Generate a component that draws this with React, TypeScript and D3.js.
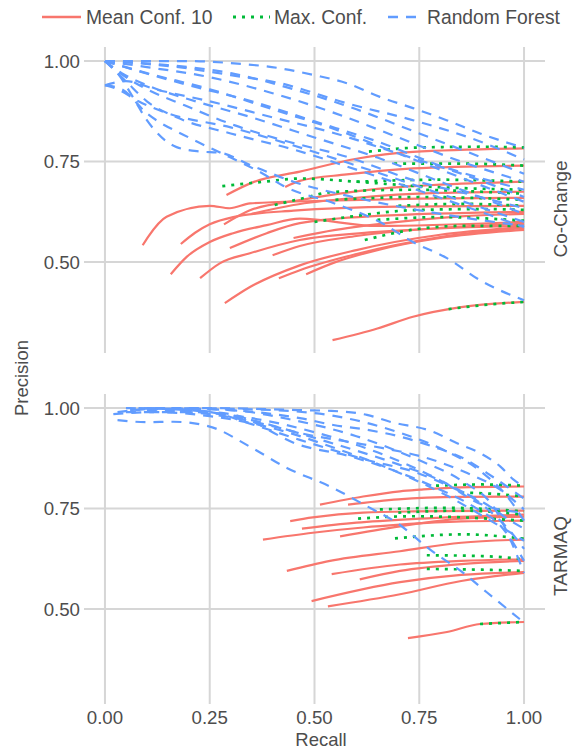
import React from "react";
import * as d3 from "d3";

type Pt = [number, number];

const panels = ["Co-Change", "TARMAQ"];
const methods = ["Mean Conf. 10", "Max. Conf.", "Random Forest"];
const methodColors = ["#F8766D", "#00BA38", "#619CFF"];
const xTicks = [0, 0.25, 0.5, 0.75, 1];
const yTicks = [0.5, 0.75, 1];
const xDomain: Pt = [-0.05, 1.05];
const yDomain: Pt = [0.274, 1.035];

// ---- Co-Change panel ----
const coChangeMeanConf: Pt[][] = [
  [[0.09, 0.542], [0.103, 0.563], [0.147, 0.613], [0.25, 0.64], [0.298, 0.634], [0.346, 0.646], [0.5, 0.652], [0.75, 0.658], [1, 0.66]],
  [[0.181, 0.545], [0.215, 0.573], [0.25, 0.594], [0.306, 0.612], [0.45, 0.628], [0.7, 0.638], [1, 0.64]],
  [[0.157, 0.47], [0.195, 0.513], [0.25, 0.55], [0.306, 0.572], [0.386, 0.592], [0.465, 0.608], [0.65, 0.59], [1, 0.6]],
  [[0.227, 0.46], [0.274, 0.497], [0.346, 0.522], [0.465, 0.555], [0.65, 0.575], [1, 0.59]],
  [[0.286, 0.398], [0.346, 0.438], [0.465, 0.492], [0.6, 0.53], [0.8, 0.568], [1, 0.587]],
  [[0.29, 0.667], [0.354, 0.699], [0.465, 0.725], [0.6, 0.757], [0.735, 0.774], [1, 0.783]],
  [[0.284, 0.594], [0.346, 0.629], [0.465, 0.654], [0.65, 0.682], [0.85, 0.695], [1, 0.7]],
  [[0.298, 0.535], [0.386, 0.572], [0.465, 0.597], [0.65, 0.615], [1, 0.625]],
  [[0.4, 0.517], [0.465, 0.54], [0.6, 0.565], [0.8, 0.585], [1, 0.595]],
  [[0.415, 0.46], [0.465, 0.48], [0.6, 0.52], [0.8, 0.562], [1, 0.585]],
  [[0.43, 0.687], [0.465, 0.702], [0.577, 0.718], [0.735, 0.733], [1, 0.74]],
  [[0.543, 0.306], [0.65, 0.335], [0.735, 0.364], [0.85, 0.388], [1, 0.401]],
  [[0.35, 0.62], [0.45, 0.642], [0.6, 0.66], [0.8, 0.672], [1, 0.675]],
  [[0.45, 0.56], [0.55, 0.58], [0.7, 0.6], [0.85, 0.614], [1, 0.62]],
  [[0.48, 0.47], [0.55, 0.5], [0.65, 0.53], [0.8, 0.56], [1, 0.58]],
];

const coChangeMaxConf: Pt[][] = [
  [[0.63, 0.775], [0.75, 0.785], [0.9, 0.787], [1, 0.785]],
  [[0.69, 0.745], [0.85, 0.745], [1, 0.74]],
  [[0.28, 0.689], [0.38, 0.7], [0.465, 0.708], [0.6, 0.7], [0.73, 0.69], [1, 0.68]],
  [[0.405, 0.642], [0.465, 0.657], [0.54, 0.674], [0.73, 0.68], [0.9, 0.675], [1, 0.67]],
  [[0.5, 0.6], [0.6, 0.615], [0.73, 0.629], [0.9, 0.632], [1, 0.63]],
  [[0.62, 0.555], [0.73, 0.58], [0.85, 0.59], [1, 0.59]],
  [[0.82, 0.383], [0.9, 0.393], [1, 0.401]],
  [[0.6, 0.7], [0.8, 0.705], [1, 0.7]],
  [[0.55, 0.655], [0.75, 0.662], [1, 0.655]],
  [[0.65, 0.605], [0.8, 0.612], [1, 0.603]],
  [[0.7, 0.64], [0.85, 0.645], [1, 0.64]],
];

const coChangeRandomForest: Pt[][] = [
  [[0, 1], [0.2, 1], [0.3, 0.995], [0.418, 0.982], [0.5, 0.965], [0.577, 0.945], [0.656, 0.911], [0.735, 0.883], [0.815, 0.853], [0.895, 0.82], [1, 0.784]],
  [[0, 1], [0.19, 0.983], [0.3, 0.965], [0.418, 0.945], [0.577, 0.895], [0.735, 0.853], [0.895, 0.8], [1, 0.755]],
  [[0, 1], [0.05, 0.96], [0.1, 0.93], [0.19, 0.89], [0.31, 0.84], [0.418, 0.805], [0.577, 0.762], [0.735, 0.704], [0.895, 0.662], [1, 0.634]],
  [[0, 1], [0.1, 0.985], [0.25, 0.96], [0.4, 0.92], [0.55, 0.87], [0.7, 0.81], [0.85, 0.75], [1, 0.7]],
  [[0, 0.94], [0.05, 0.95], [0.12, 0.93], [0.25, 0.9], [0.4, 0.86], [0.55, 0.82], [0.7, 0.77], [0.85, 0.72], [1, 0.662]],
  [[0, 1], [0.04, 0.97], [0.1, 0.94], [0.2, 0.905], [0.35, 0.86], [0.5, 0.81], [0.65, 0.76], [0.8, 0.7], [1, 0.62]],
  [[0, 0.94], [0.03, 0.93], [0.08, 0.9], [0.15, 0.87], [0.3, 0.835], [0.45, 0.79], [0.6, 0.74], [0.8, 0.67], [1, 0.6]],
  [[0, 1], [0.05, 0.95], [0.1, 0.9], [0.171, 0.86], [0.3, 0.82], [0.45, 0.78], [0.6, 0.73], [0.8, 0.66], [1, 0.587]],
  [[0, 1], [0.03, 0.97], [0.068, 0.908], [0.1, 0.853], [0.171, 0.786], [0.227, 0.775], [0.274, 0.772], [0.35, 0.74], [0.45, 0.7], [0.6, 0.66], [0.8, 0.62], [1, 0.59]],
  [[0, 0.94], [0.04, 0.93], [0.1, 0.87], [0.2, 0.81], [0.3, 0.76], [0.377, 0.72], [0.425, 0.69], [0.55, 0.645], [0.656, 0.6], [0.735, 0.55], [0.816, 0.51], [0.895, 0.455], [1, 0.405]],
  [[0, 1], [0.15, 0.99], [0.3, 0.97], [0.45, 0.93], [0.6, 0.88], [0.75, 0.82], [0.9, 0.76], [1, 0.72]],
  [[0, 1], [0.08, 0.975], [0.2, 0.94], [0.35, 0.9], [0.5, 0.85], [0.65, 0.8], [0.8, 0.74], [1, 0.68]],
  [[0, 1], [0.1, 0.97], [0.25, 0.93], [0.4, 0.88], [0.55, 0.83], [0.7, 0.77], [0.85, 0.71], [1, 0.65]],
];

// ---- TARMAQ panel ----
const tarmaqMeanConf: Pt[][] = [
  [[0.513, 0.76], [0.616, 0.78], [0.704, 0.793], [0.752, 0.797], [0.85, 0.803], [1, 0.805]],
  [[0.58, 0.76], [0.7, 0.773], [0.85, 0.779], [1, 0.78]],
  [[0.442, 0.719], [0.496, 0.728], [0.616, 0.74], [0.735, 0.743], [1, 0.745]],
  [[0.377, 0.673], [0.496, 0.69], [0.616, 0.703], [0.704, 0.71], [0.85, 0.718], [1, 0.72]],
  [[0.561, 0.681], [0.704, 0.706], [0.85, 0.725], [1, 0.73]],
  [[0.47, 0.7], [0.6, 0.715], [0.75, 0.725], [1, 0.735]],
  [[0.434, 0.595], [0.537, 0.62], [0.704, 0.644], [0.85, 0.665], [1, 0.673]],
  [[0.541, 0.587], [0.704, 0.611], [0.85, 0.62], [1, 0.624]],
  [[0.608, 0.574], [0.704, 0.595], [0.85, 0.612], [1, 0.62]],
  [[0.493, 0.52], [0.704, 0.567], [0.85, 0.585], [1, 0.592]],
  [[0.532, 0.507], [0.704, 0.537], [0.85, 0.57], [1, 0.59]],
  [[0.723, 0.428], [0.816, 0.443], [0.895, 0.463], [1, 0.468]],
];

const tarmaqMaxConf: Pt[][] = [
  [[0.79, 0.807], [0.9, 0.81], [1, 0.807]],
  [[0.85, 0.79], [0.95, 0.785], [1, 0.78]],
  [[0.656, 0.748], [0.816, 0.752], [1, 0.743]],
  [[0.604, 0.725], [0.735, 0.731], [1, 0.72]],
  [[0.7, 0.74], [0.85, 0.745], [1, 0.735]],
  [[0.692, 0.676], [0.855, 0.686], [1, 0.675]],
  [[0.768, 0.634], [0.9, 0.632], [1, 0.624]],
  [[0.768, 0.6], [0.9, 0.598], [1, 0.595]],
  [[0.895, 0.463], [1, 0.468]],
];

const tarmaqRandomForest: Pt[][] = [
  [[0.06, 0.995], [0.25, 1], [0.46, 0.995], [0.54, 0.993], [0.625, 0.983], [0.68, 0.966], [0.783, 0.941], [0.839, 0.913], [0.895, 0.888], [0.943, 0.855], [0.975, 0.822], [1, 0.805]],
  [[0.03, 0.99], [0.15, 1], [0.3, 0.995], [0.465, 0.975], [0.545, 0.958], [0.625, 0.946], [0.704, 0.929], [0.783, 0.904], [0.863, 0.871], [0.911, 0.839], [0.959, 0.805], [1, 0.775]],
  [[0.05, 1], [0.2, 0.995], [0.35, 0.97], [0.465, 0.938], [0.625, 0.908], [0.783, 0.871], [0.863, 0.839], [0.943, 0.797], [1, 0.748]],
  [[0.08, 1], [0.25, 0.99], [0.35, 0.96], [0.465, 0.921], [0.625, 0.871], [0.745, 0.839], [0.823, 0.805], [0.903, 0.765], [0.975, 0.715], [1, 0.7]],
  [[0.1, 1], [0.3, 0.985], [0.465, 0.908], [0.585, 0.88], [0.704, 0.839], [0.8, 0.797], [0.878, 0.756], [0.95, 0.7], [1, 0.62]],
  [[0.03, 0.97], [0.1, 0.965], [0.163, 0.966], [0.25, 0.954], [0.346, 0.904], [0.434, 0.851], [0.537, 0.805], [0.625, 0.756], [0.696, 0.715], [0.776, 0.648], [0.855, 0.59], [0.911, 0.542], [0.99, 0.475]],
  [[0.02, 0.985], [0.12, 0.99], [0.25, 0.98], [0.4, 0.95], [0.55, 0.9], [0.7, 0.84], [0.82, 0.78], [0.92, 0.72], [1, 0.67]],
  [[0.12, 1], [0.3, 0.995], [0.45, 0.97], [0.6, 0.93], [0.75, 0.87], [0.85, 0.82], [0.93, 0.75], [1, 0.59]],
  [[0.2, 1], [0.4, 0.995], [0.55, 0.98], [0.7, 0.94], [0.8, 0.9], [0.9, 0.84], [0.96, 0.78], [1, 0.72]],
  [[0.1, 0.995], [0.25, 0.985], [0.4, 0.955], [0.55, 0.91], [0.7, 0.86], [0.8, 0.82], [0.9, 0.76], [1, 0.74]],
  [[0.05, 0.99], [0.2, 0.99], [0.35, 0.975], [0.5, 0.94], [0.65, 0.89], [0.8, 0.82], [0.9, 0.76], [0.97, 0.69], [1, 0.65]],
];

const panelSeries: Pt[][][][] = [
  [coChangeMeanConf, coChangeMaxConf, coChangeRandomForest],
  [tarmaqMeanConf, tarmaqMaxConf, tarmaqRandomForest],
];

const W = 572;
const H = 751;
const FONT = "'Liberation Sans', Arial, Helvetica, sans-serif";
const TEXT = "#4d4d4d";
const GRID = "#d6d6d6";
const dashes = [null, "3,6", "10,8"];
const widths = [2.2, 2.7, 2.2];

export default function App() {
  const panelLeft = 84;
  const panelRight = 545;
  const panelTop0 = 47;
  const panelH = 306;
  const panelGap = 41;

  const x = d3.scaleLinear().domain(xDomain).range([panelLeft, panelRight]);

  const panelYs = panels.map((_, i) => {
    const top = panelTop0 + i * (panelH + panelGap);
    return d3.scaleLinear().domain(yDomain).range([top + panelH, top]);
  });

  const lastBottom = panelTop0 + (panels.length - 1) * (panelH + panelGap) + panelH;

  return (
    <svg
      width={W}
      height={H}
      viewBox={`0 0 ${W} ${H}`}
      style={{ position: "absolute", left: 0, top: 0, background: "#fff" }}
      fontFamily={FONT}
    >
      <rect x={0} y={0} width={W} height={H} fill="#fff" />
      {/* Legend */}
      {methods.map((m, i) => {
        const keyX = [42, 233, 388][i];
        const keyW = [39, 37, 34][i];
        const txtX = [86, 274, 427][i];
        return (
          <g key={m}>
            <line
              x1={keyX}
              x2={keyX + keyW}
              y1={17}
              y2={17}
              stroke={methodColors[i]}
              strokeWidth={widths[i] + 0.1}
              strokeDasharray={dashes[i] ?? undefined}
            />
            <text x={txtX} y={17} dy="0.35em" fontSize={19.3} fill={TEXT}>
              {m}
            </text>
          </g>
        );
      })}

      {panels.map((p, pi) => {
        const y = panelYs[pi];
        const [yb, yt] = y.range();
        const line = d3
          .line<Pt>()
          .x((d) => x(d[0]))
          .y((d) => y(d[1]))
          .curve(d3.curveMonotoneX);
        return (
          <g key={p}>
            {/* grid */}
            {yTicks.map((t) => (
              <line key={"h" + t} x1={panelLeft} x2={panelRight} y1={y(t)} y2={y(t)} stroke={GRID} strokeWidth={2} />
            ))}
            {xTicks.map((t) => (
              <line key={"v" + t} x1={x(t)} x2={x(t)} y1={yt} y2={yb} stroke={GRID} strokeWidth={2} />
            ))}
            {/* y tick labels */}
            {yTicks.map((t) => (
              <text key={"yl" + t} x={80} y={y(t)} dy="0.35em" textAnchor="end" fontSize={18.7} fill={TEXT}>
                {d3.format(".2f")(t)}
              </text>
            ))}
            {/* series */}
            {panelSeries[pi].map((curves, mi) =>
              curves.map((c, ci) => (
                <path
                  key={mi + "-" + ci}
                  d={line(c) ?? ""}
                  fill="none"
                  stroke={methodColors[mi]}
                  strokeWidth={widths[mi]}
                  strokeDasharray={dashes[mi] ?? undefined}
                />
              ))
            )}
            {/* strip label */}
            <text
              transform={`translate(560,${(yt + yb) / 2 + 9}) rotate(-90)`}
              textAnchor="middle"
              dy="0.35em"
              fontSize={19}
              fill={TEXT}
            >
              {p}
            </text>
          </g>
        );
      })}

      {/* x axis ticks and labels */}
      {xTicks.map((t) => (
        <g key={"xt" + t}>
          <line x1={x(t)} x2={x(t)} y1={lastBottom} y2={lastBottom + 4} stroke={GRID} strokeWidth={2} />
          <text x={x(t)} y={724} textAnchor="middle" fontSize={18.7} fill={TEXT}>
            {d3.format(".2f")(t)}
          </text>
        </g>
      ))}

      {/* axis titles */}
      <text x={321} y={746} textAnchor="middle" fontSize={18.5} fill={TEXT}>
        Recall
      </text>
      <text transform={`translate(22,378) rotate(-90)`} textAnchor="middle" dy="0.35em" fontSize={18.5} fill={TEXT}>
        Precision
      </text>
    </svg>
  );
}
